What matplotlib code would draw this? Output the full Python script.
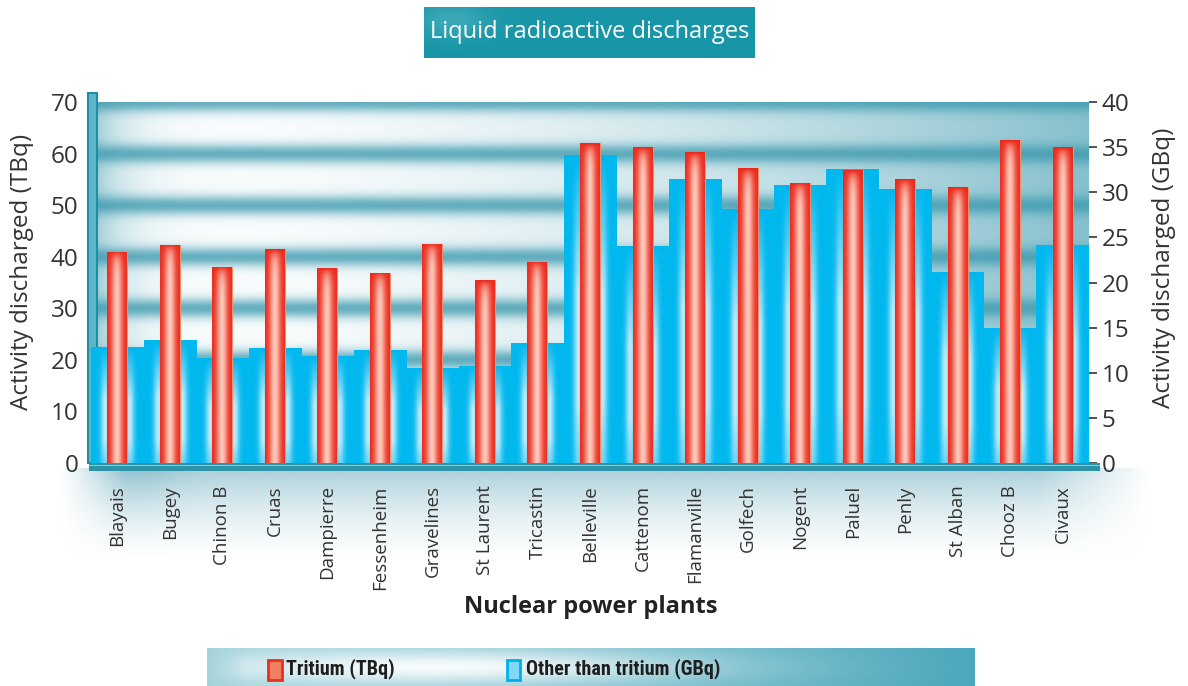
import numpy as np
import matplotlib.pyplot as plt
from matplotlib.colors import to_rgb
from matplotlib.patches import Rectangle

plants = ['Blayais', 'Bugey', 'Chinon B', 'Cruas', 'Dampierre', 'Fessenheim',
          'Gravelines', 'St Laurent', 'Tricastin', 'Belleville', 'Cattenom',
          'Flamanville', 'Golfech', 'Nogent', 'Paluel', 'Penly', 'St Alban',
          'Chooz B', 'Civaux']
tritium_tbq = [41.0, 42.3, 38.1, 41.4, 37.8, 36.9, 42.5, 35.4, 39.0, 62.0,
               61.2, 60.3, 57.2, 54.3, 56.8, 55.0, 53.5, 62.6, 61.2]
other_gbq = [12.8, 13.6, 11.6, 12.7, 11.9, 12.5, 10.5, 10.8, 13.3, 34.1,
             24.0, 31.5, 28.1, 30.8, 32.6, 30.4, 21.2, 15.0, 24.2]
left_ticks = [0, 10, 20, 30, 40, 50, 60, 70]
right_ticks = [0, 5, 10, 15, 20, 25, 30, 35, 40]

plt.rcParams['font.family'] = ['Open Sans', 'DejaVu Sans']

W, H = 1188, 686
fig = plt.figure(figsize=(W / 100, H / 100), dpi=100)


def fx(px):
    return px / W


def fy(py):
    return 1 - py / H


def box(x0, y0, x1, y1):
    return [fx(x0), fy(y1), fx(x1) - fx(x0), fy(y0) - fy(y1)]


def mix(c1, c2, w):
    c1 = np.array(to_rgb(c1))
    c2 = np.array(to_rgb(c2))
    return np.clip(c1 + (c2 - c1) * w[..., None], 0, 1)


TEAL = '#3D9AAF'

# soft haze under the plot
hz = fig.add_axes(box(60, 468, 1150, 565), zorder=0)
hz.axis('off')
u = np.linspace(0, 1, 600)[None, :]
v = np.linspace(0, 1, 120)[:, None]
alpha = 0.8 * (1 - v) ** 1.6 * np.clip((u - 0.0) / 0.06, 0, 1) * np.clip((1 - u) / 0.1, 0, 1)
alpha = alpha + 0.25 * np.exp(-((u - 0.07) / 0.04) ** 2) * (1 - v) ** 2
rgba = np.zeros((120, 600, 4))
rgba[..., :3] = to_rgb('#96C4D1')
rgba[..., 3] = np.clip(alpha, 0, 1)
hz.imshow(rgba, aspect='auto', extent=[0, 1, 0, 1], interpolation='bilinear')

# main axes: TBq on the left (on top), GBq on the right (underneath)
ax = fig.add_axes(box(91, 102, 1089, 463), zorder=3)
axr = ax.twinx()
ax.set_zorder(3)
axr.set_zorder(2)
ax.patch.set_visible(False)

x = np.arange(len(plants))

# striped background
ny, nx = 420, 1000
uu = np.linspace(0, 1, nx)[None, :]
vv = np.linspace(0, 70, ny)[:, None]
d = np.abs(vv - np.round(vv / 10) * 10)
stripe = np.exp(-(d / 1.9) ** 2)
base = 0.55 * np.exp(-uu / 0.035) + 0.62 * uu ** 1.8
w = np.clip(base + stripe * 0.78 * (1 - base), 0, 1)
axr.imshow(mix('#FFFFFF', TEAL, w), extent=[-0.5, len(plants) - 0.5, 0, 40],
           aspect='auto', origin='lower', interpolation='bilinear', zorder=0)

# left pillar
axr.add_patch(Rectangle((-0.55, 0), 0.16, 41.0, facecolor='#5DB6C7',
                        edgecolor='#1F8DA4', linewidth=1.5, zorder=1, clip_on=False))

# blue bars (GBq)
blue = axr.bar(x, other_gbq, width=1.0, color='#00B7EE', linewidth=0, zorder=2)
for bar in blue:
    bx, bw, bh = bar.get_x(), bar.get_width(), bar.get_height()
    t = np.linspace(-0.5, 0.5, 120)[None, :]
    yy = np.linspace(0, 1, 100)[:, None]
    glow = np.exp(-((np.abs(t) - 0.23) / 0.09) ** 2)
    vert = np.clip((1 - yy) / 0.45, 0, 1) * (0.6 + 0.4 * np.clip(yy / 0.2, 0, 1))
    im = axr.imshow(mix('#00B7EE', '#DDF5FE', 0.85 * glow * vert),
                    extent=[bx, bx + bw, 0, bh], aspect='auto', origin='lower',
                    interpolation='bilinear', zorder=2.1)
    im.set_clip_path(bar)

# red bars (TBq)
red = ax.bar(x, tritium_tbq, width=0.38, color='#EC2E1F', edgecolor='#F5906A',
             linewidth=0.8, zorder=3)
for bar in red:
    bx, bw, bh = bar.get_x(), bar.get_width(), bar.get_height()
    t = np.linspace(-1, 1, 60)[None, :]
    yy = np.linspace(0, bh, 200)[:, None]
    g = 0.9 * np.exp(-(t / 0.55) ** 2) * (1 - np.exp(-(bh - yy) / 1.6))
    im = ax.imshow(mix('#EA2A1C', '#FFDACB', g), extent=[bx, bx + bw, 0, bh],
                   aspect='auto', origin='lower', interpolation='bilinear', zorder=3.1)
    im.set_clip_path(bar)

ax.set_xlim(-0.5, len(plants) - 0.5)
ax.set_ylim(0, 70)
axr.set_ylim(0, 40)

for a in (ax, axr):
    for s in a.spines.values():
        s.set_visible(False)

ax.set_xticks(x)
ax.set_xticklabels(plants, rotation=90, va='top', ha='center')
ax.tick_params(axis='x', length=0, pad=16, labelsize=13.5, labelcolor='#333333')
ax.set_yticks(left_ticks)
ax.tick_params(axis='y', length=0, pad=9, labelsize=17.5, labelcolor='#333333')
axr.set_yticks(right_ticks)
axr.tick_params(axis='y', length=5.5, width=1.3, color='#444444', pad=3.5,
                labelsize=17.5, labelcolor='#333333')

ax.set_ylabel('Activity discharged (TBq)', fontsize=17.5, color='#333333')
ax.yaxis.set_label_coords(-0.057, 0.53)
axr.set_ylabel('Activity discharged (GBq)', fontsize=17.5, color='#333333', rotation=90)
axr.yaxis.set_label_coords(1.063, 0.54)

# floor under the bars
fig.patches.append(Rectangle((fx(89), fy(471)), fx(1100) - fx(89), fy(463) - fy(471),
                             transform=fig.transFigure, facecolor='#2C93A8',
                             edgecolor='none', zorder=4))
fig.patches.append(Rectangle((fx(89), fy(466)), fx(1100) - fx(89), fy(465) - fy(466),
                             transform=fig.transFigure, facecolor='#8CCAD6',
                             edgecolor='none', zorder=4))

fig.text(fx(591), fy(607), 'Nuclear power plants', fontsize=17, fontweight='bold',
         color='#222222', ha='center', va='center')

# title box
tb = fig.add_axes(box(424, 7, 755, 58), zorder=5)
tb.axis('off')
tu = np.linspace(0, 1, 200)[None, :]
tv = np.linspace(0, 1, 40)[:, None]
tw = 0.35 * np.exp(-((tu - 0.08) / 0.12) ** 2) * np.exp(-((tv - 0.25) / 0.35) ** 2)
tb.imshow(mix('#1896A7', '#7FCBD5', tw), aspect='auto', extent=[0, 1, 0, 1],
          interpolation='bilinear')
tb.text(0.5, 0.5, 'Liquid radioactive discharges', color='white', fontsize=17,
        ha='center', va='center', transform=tb.transAxes)

# legend strip
lg = fig.add_axes(box(207, 648, 975, 686), zorder=5)
lg.axis('off')
lu = np.linspace(0, 1, 600)[None, :]
lv = np.linspace(0, 1, 40)[:, None]
glow = np.exp(-((lu - 0.3) / 0.32) ** 2) * np.clip(lu / 0.05, 0, 1)
lw = 1 - 0.92 * glow * np.exp(-((lv - 0.5) / 0.45) ** 2)
lw = np.clip(lw * (0.5 + 0.5 * lu ** 1.5), 0, 1)
lg.imshow(mix('#FFFFFF', '#4AA7BA', lw), aspect='auto', extent=[0, 1, 0, 1],
          interpolation='bilinear')
lg.set_xlim(0, 1)
lg.set_ylim(0, 1)


def lx(px):
    return (px - 207) / (975 - 207)


def ly(py):
    return (686 - py) / (686 - 648)


lg.add_patch(Rectangle((lx(268), ly(680)), lx(282) - lx(268), ly(660) - ly(680),
                       facecolor='#F08060', edgecolor='#E8301F', linewidth=2))
lg.add_patch(Rectangle((lx(507), ly(680)), lx(520) - lx(507), ly(660) - ly(680),
                       facecolor='#7FD8F8', edgecolor='#00B0EA', linewidth=2))
legend_font = dict(family=['Liberation Sans Narrow', 'Roboto Condensed', 'Roboto'],
                   fontsize=14.5, fontweight='bold', color='#1E1E1E',
                   ha='left', va='center')
lg.text(lx(286), ly(669), 'Tritium (TBq)', **legend_font)
lg.text(lx(526), ly(669), 'Other than tritium (GBq)', **legend_font)

fig.savefig('out.png', dpi=100)
